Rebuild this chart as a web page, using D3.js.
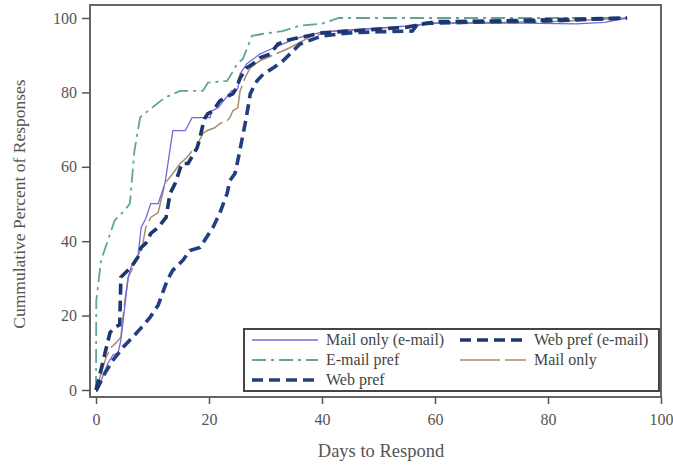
<!DOCTYPE html>
<html>
<head>
	<meta charset="utf-8">
	<title>Cumulative responses</title>
	<script src="https://d3js.org/d3.v7.min.js"></script>
	<style>
		body { margin: 0; background: #fff; }
		text { font-family: "Liberation Serif", "DejaVu Serif", serif; fill: #444; }
	</style>
</head>
<body>
</body>
<script>
	// values (day, cumulative %)
	var mailEmailDays = [0, 0.4, 2.1, 3, 3.9, 4.4, 5.7, 6.2, 7.4, 8, 8.8, 9.7, 11, 12.2, 13.6, 15.8, 17, 20.2, 20.5, 21.6, 24, 25.1, 25.5, 26.7, 29, 30.3, 33, 35.6, 40, 45, 55, 60, 75, 85, 90, 94];
	var mailEmailPct  = [0, 0.5, 7.2, 9.4, 9.9, 13.4, 30.3, 33, 35.7, 43.7, 46.1, 50.1, 50.1, 55.5, 69.7, 69.7, 73.2, 73.2, 75, 75.9, 80.4, 81, 85, 87.7, 90.3, 91.2, 93, 94.6, 96.2, 96.8, 97.8, 98.6, 98.6, 98.4, 98.8, 100];

	var emailPrefDays = [0, 0.05, 0.9, 2.1, 3.3, 5.1, 6, 6.2, 6.8, 7.8, 8.1, 12.2, 14.9, 18.9, 19.8, 23.2, 24.1, 25, 26, 27.6, 29.4, 33, 36, 40, 43, 60, 94];
	var emailPrefPct  = [0, 24, 34.9, 40.2, 45.6, 48.3, 50.1, 53.6, 64.3, 73.2, 73.7, 78.6, 80.4, 80.4, 82.6, 83.1, 85.3, 87.7, 89, 95.2, 95.7, 96.5, 97.9, 98.5, 100, 100, 100];

	var webPrefDays = [0, 0.1, 1.6, 3, 4.8, 6.5, 8.1, 9.6, 11, 12.6, 13.6, 15.4, 16.6, 18.4, 20.7, 21.9, 23.2, 23.7, 24.6, 25.1, 25.8, 26.4, 26.9, 27.3, 27.8, 28.5, 29.6, 31.4, 33.1, 34.9, 36.1, 40, 45, 50, 56, 57, 70, 80, 94];
	var webPrefPct  = [0, 0, 4.6, 8, 11.5, 14.2, 16.9, 19.6, 22.8, 29.5, 32.2, 34.9, 37.5, 38.3, 43.7, 47.5, 52.8, 56.3, 58.2, 61.7, 67, 71.6, 75.9, 79.6, 81.2, 83.1, 84.9, 86.6, 88.5, 91.2, 93, 95.2, 96, 96.3, 96.5, 98.5, 99, 99.2, 100];

	var webEmailDays = [0, 0.5, 1.6, 2.5, 3.5, 4.2, 4.4, 6.2, 7.4, 8, 8.8, 9.7, 11, 12.4, 13.1, 14, 15.2, 16.3, 17.9, 18.4, 18.8, 19.3, 19.8, 20.7, 21.9, 22.8, 24.2, 24.9, 25.5, 26.7, 27.8, 29, 30.8, 32.2, 33.8, 35.6, 40, 45, 50, 55, 60, 70, 80, 94];
	var webEmailPct  = [0, 3, 10, 15.5, 17, 17.5, 30.3, 33, 35.7, 38.3, 39.4, 42.1, 43.7, 46.4, 52.8, 55.5, 60.9, 60.9, 65.1, 67.8, 70.5, 73.2, 74.3, 75, 77.7, 78.6, 79.6, 81.2, 83.9, 86.6, 87.7, 89.3, 90.3, 93, 94, 94.6, 96, 96.5, 97, 97.5, 99, 99.2, 99.5, 100];

	var mailOnlyDays = [0, 0.4, 1.8, 2.7, 3.5, 4.4, 5.1, 5.7, 6.9, 8.3, 8.8, 9.7, 11, 12.2, 13.6, 14.9, 16.1, 17, 17.5, 18, 18.9, 19.6, 21, 21.9, 23.2, 23.7, 24.2, 25.1, 25.5, 26.4, 27.3, 29, 30.3, 33.1, 34.3, 38, 42, 50, 60, 80, 94];
	var mailOnlyPct  = [0, 2, 8.8, 11.5, 12.6, 14.2, 24, 30.3, 34, 39.4, 43.7, 46.4, 47.7, 55.5, 58.2, 60.9, 62.5, 64.3, 64.3, 66.2, 68.9, 69.7, 70.5, 71.6, 72.4, 73.2, 75, 75.9, 80.4, 84, 86.6, 88.5, 89.3, 91.2, 92, 95, 96.5, 97.2, 98.6, 99, 100];

	var xTicks = [0, 20, 40, 60, 80, 100];
	var yTicks = [0, 20, 40, 60, 80, 100];

	function zip(days, pct) {
		return days.map(function(d, i) { return {day: d, pct: pct[i]}; });
	}

	// drawing order = back to front
	var series = [
		{name: "E-mail pref", data: zip(emailPrefDays, emailPrefPct), color: "#5fa597", width: 1.8, dash: "14,5,3,5"},
		{name: "Mail only", data: zip(mailOnlyDays, mailOnlyPct), color: "#a88d6c", width: 1.5, dash: "40,5"},
		{name: "Mail only (e-mail)", data: zip(mailEmailDays, mailEmailPct), color: "#7468e0", width: 1.3, dash: null},
		{name: "Web pref", data: zip(webPrefDays, webPrefPct), color: "#223f80", width: 3.6, dash: "11,6"},
		{name: "Web pref (e-mail)", data: zip(webEmailDays, webEmailPct), color: "#1c3670", width: 3.6, dash: "11,6"}
	];

	var width = 673, height = 465;
	var svg = d3.select("body").append("svg").attr("width", width).attr("height", height);

	var x = d3.scaleLinear().domain([0, 100]).range([96, 661]);
	var y = d3.scaleLinear().domain([0, 100]).range([390, 18]);

	// plot frame
	svg.append("rect").attr("x", 90).attr("y", 5).attr("width", 571).attr("height", 392)
		.attr("fill", "none").attr("stroke", "#666").attr("stroke-width", 2);

	var xAxis = d3.axisBottom(x).tickValues(xTicks).tickSize(7).tickPadding(10);
	var yAxis = d3.axisLeft(y).tickValues(yTicks).tickSize(8).tickPadding(5);

	var xg = svg.append("g").attr("transform", "translate(0,397)").call(xAxis);
	var yg = svg.append("g").attr("transform", "translate(90,0)").call(yAxis);
	[xg, yg].forEach(function(g) {
		g.select(".domain").remove();
		g.selectAll(".tick line").attr("stroke", "#555").attr("stroke-width", 1.5);
		g.selectAll(".tick text").attr("font-size", 16).style("fill", "#555")
			.attr("font-family", "Liberation Serif, serif");
	});

	svg.append("text").attr("x", 381).attr("y", 457).attr("text-anchor", "middle")
		.attr("font-size", 18.5).style("fill", "#555").text("Days to Respond");
	svg.append("text").attr("transform", "translate(25,204) rotate(-90)").attr("text-anchor", "middle")
		.attr("font-size", 17.5).style("fill", "#555").text("Cummulative Percent of Responses");

	var line = d3.line().x(function(d) { return x(d.day); }).y(function(d) { return y(d.pct); });

	svg.append("g").selectAll("path").data(series).enter().append("path")
		.attr("d", function(d) { return line(d.data); })
		.attr("fill", "none")
		.attr("stroke", function(d) { return d.color; })
		.attr("stroke-width", function(d) { return d.width; })
		.attr("stroke-dasharray", function(d) { return d.dash; });

	// legend
	var legendOrder = ["Mail only (e-mail)", "Web pref (e-mail)", "E-mail pref", "Mail only", "Web pref"];
	var lg = svg.append("g");
	lg.append("rect").attr("x", 244).attr("y", 329).attr("width", 415).attr("height", 62)
		.attr("fill", "#fff").attr("stroke", "#444").attr("stroke-width", 2);
	legendOrder.forEach(function(name, i) {
		var s = series.find(function(d) { return d.name === name; });
		var col = i % 2, row = Math.floor(i / 2);
		var lx = col === 0 ? 252 : 460, ly = 340 + row * 20;
		lg.append("line").attr("x1", lx).attr("x2", lx + 66).attr("y1", ly).attr("y2", ly)
			.attr("stroke", s.color).attr("stroke-width", s.width)
			.attr("stroke-dasharray", s.dash);
		lg.append("text").attr("x", lx + 74).attr("y", ly + 5).attr("font-size", 16).style("fill", "#444").text(name);
	});
</script>
</html>
